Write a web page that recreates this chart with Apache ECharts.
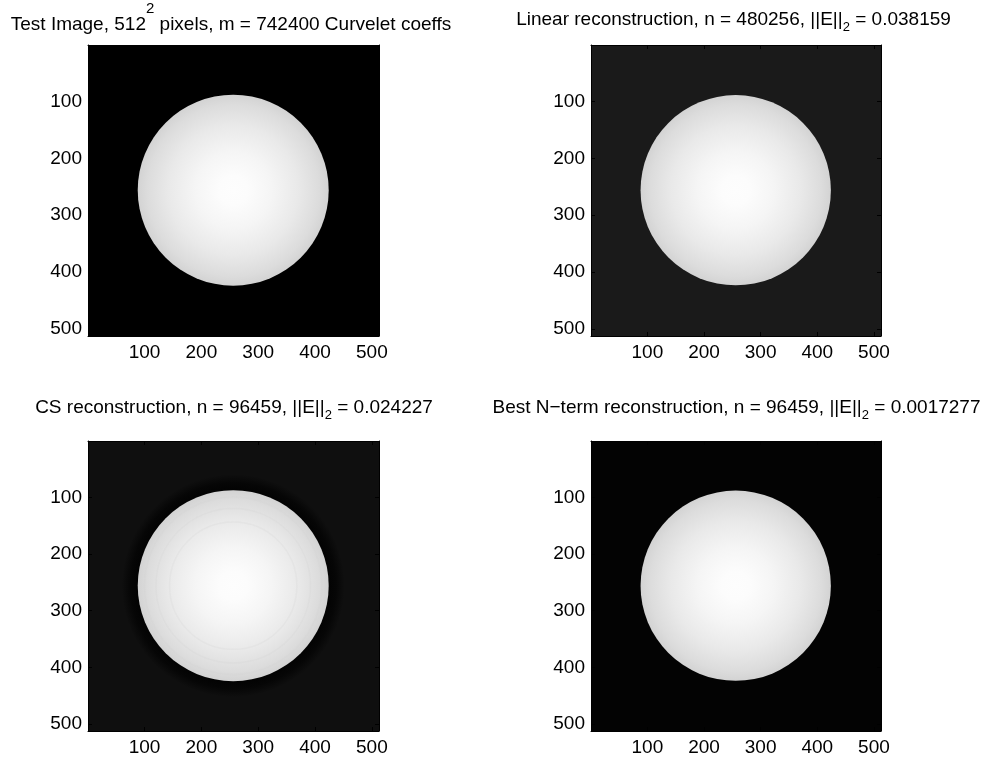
<!DOCTYPE html>
<html>
<head>
<meta charset="utf-8">
<style>
  html, body { margin: 0; padding: 0; background: #ffffff; }
  #chart { width: 992px; height: 757px; }
</style>
<script src="https://cdn.jsdelivr.net/npm/echarts@6/dist/echarts.min.js"></script>
</head>
<body>
<div id="chart"></div>
<script>
// Panel titles (rich-text markup for sub/superscripts)
const panelTitles = [
  'Test Image, 512{sup|2} pixels, m = 742400 Curvelet coeffs',
  'Linear reconstruction, n = 480256, ||E||{sub|2} = 0.038159',
  'CS reconstruction, n = 96459, ||E||{sub|2} = 0.024227',
  'Best N\u2212term reconstruction, n = 96459, ||E||{sub|2} = 0.0017277'
];

// Image extent in pixel coordinates and tick values
const imageExtent = [0.5, 512.5];
const tickValues = [100, 200, 300, 400, 500];

// Disk: centre (col,row) and radius in pixels
const diskCenter = [256, 256];
const diskRadius = 168;

// Background grey level of each reconstruction (0 = black, 1 = white)
const backgroundLevels = [0.0, 0.1, 0.06, 0.012];

// Dark halo around the disk in the CS reconstruction: outer radius (px), grey level
const csHaloRadius = 196;
const csHaloLevel = 0.012;
// Faint ringing inside the CS disk: radii (px)
const csRingRadii = [156, 136, 112];

// Grid boxes of the four panels (px)
const panelBoxes = [
  { left: 88, top: 45, width: 291, height: 291 },
  { left: 591, top: 45, width: 290, height: 291 },
  { left: 88, top: 441, width: 291, height: 291 },
  { left: 591, top: 441, width: 290, height: 291 }
];
// Title anchor: horizontal centre and top of the text line (px)
const titleBoxes = [
  { center: 231, top: 1.5, lineHeight: 46 },
  { center: 733.5, top: 6.5, lineHeight: 27 },
  { center: 234, top: 394.5, lineHeight: 27 },
  { center: 736.5, top: 394.5, lineHeight: 27 }
];

const FONT = '"Liberation Sans", Arial, Helvetica, sans-serif';
const FONT_SIZE = 19;

function grey(v) {
  const c = Math.round(v * 255);
  return 'rgb(' + c + ',' + c + ',' + c + ')';
}

const diskGradient = {
  type: 'radial', x: 0.5, y: 0.5, r: 0.5,
  colorStops: [
    { offset: 0.0, color: '#fdfdfd' },
    { offset: 0.15, color: '#fcfcfc' },
    { offset: 0.4, color: '#f5f5f5' },
    { offset: 0.68, color: '#e9e9e9' },
    { offset: 0.9, color: '#dcdcdc' },
    { offset: 1.0, color: '#d3d3d3' }
  ]
};

function makeRenderer(panelIndex) {
  return function (params, api) {
    const cx = api.value(0), cy = api.value(1), r = api.value(2);
    const p0 = api.coord([imageExtent[0], imageExtent[0]]);
    const p1 = api.coord([imageExtent[1], imageExtent[1]]);
    const c = api.coord([cx, cy]);
    const rpx = api.size([r, r])[0];
    const children = [
      {
        type: 'rect',
        shape: { x: p0[0], y: p0[1], width: p1[0] - p0[0], height: p1[1] - p0[1] },
        style: { fill: grey(backgroundLevels[panelIndex]) }
      }
    ];
    if (panelIndex === 2) {
      const haloPx = api.size([csHaloRadius, 0])[0];
      const inner = rpx / haloPx;
      children.push({
        type: 'circle',
        shape: { cx: c[0], cy: c[1], r: haloPx },
        style: {
          fill: {
            type: 'radial', x: 0.5, y: 0.5, r: 0.5,
            colorStops: [
              { offset: 0, color: grey(csHaloLevel) },
              { offset: inner, color: grey(csHaloLevel) },
              { offset: inner + (1 - inner) * 0.45, color: grey(0.025) },
              { offset: 1, color: grey(backgroundLevels[2]) }
            ]
          }
        }
      });
    }
    children.push({
      type: 'circle',
      shape: { cx: c[0], cy: c[1], r: rpx },
      style: { fill: diskGradient }
    });
    if (panelIndex === 2) {
      csRingRadii.forEach(function (rr) {
        children.push({
          type: 'circle',
          shape: { cx: c[0], cy: c[1], r: api.size([rr, 0])[0] },
          style: { fill: 'none', stroke: '#d0d0d0', lineWidth: 1.5, opacity: 0.22 }
        });
      });
    }
    return { type: 'group', children: children };
  };
}

const xAxes = [], yAxes = [], grids = [], series = [], titles = [];

panelBoxes.forEach(function (box, i) {
  grids.push(Object.assign({ containLabel: false }, box));
  const tickStyle = { show: true, inside: true, length: 4, customValues: tickValues,
                      lineStyle: { color: '#000', width: 1 } };
  const lineStyle = { show: true, lineStyle: { color: '#000', width: 1 } };
  ['bottom', 'top'].forEach(function (pos) {
    xAxes.push({
      gridIndex: i, type: 'value', position: pos,
      min: imageExtent[0], max: imageExtent[1], z: 5,
      axisLine: lineStyle, axisTick: tickStyle,
      splitLine: { show: false },
      axisLabel: pos === 'bottom'
        ? { show: true, customValues: tickValues, color: '#000', fontSize: FONT_SIZE, fontFamily: FONT, margin: 7 }
        : { show: false }
    });
  });
  ['left', 'right'].forEach(function (pos) {
    yAxes.push({
      gridIndex: i, type: 'value', position: pos, inverse: true,
      min: imageExtent[0], max: imageExtent[1], z: 5,
      axisLine: lineStyle, axisTick: tickStyle,
      splitLine: { show: false },
      axisLabel: pos === 'left'
        ? { show: true, customValues: tickValues, color: '#000', fontSize: FONT_SIZE, fontFamily: FONT, margin: 6 }
        : { show: false }
    });
  });
  series.push({
    type: 'custom',
    xAxisIndex: 2 * i, yAxisIndex: 2 * i,
    clip: true, silent: true,
    renderItem: makeRenderer(i),
    data: [[diskCenter[0], diskCenter[1], diskRadius]]
  });
  const tb = titleBoxes[i];
  titles.push({
    text: panelTitles[i],
    left: tb.center, top: tb.top, padding: 0,
    textAlign: 'center',
    textStyle: {
      color: '#000', fontSize: FONT_SIZE, fontWeight: 'normal', fontFamily: FONT,
      lineHeight: tb.lineHeight,
      rich: {
        sub: { fontSize: 13, lineHeight: 13, verticalAlign: 'bottom', color: '#000', fontFamily: FONT },
        sup: { fontSize: 15, lineHeight: 15, verticalAlign: 'top', color: '#000', fontFamily: FONT }
      }
    }
  });
});

const chart = echarts.init(document.getElementById('chart'), null, { renderer: 'canvas' });
chart.setOption({
  backgroundColor: '#ffffff',
  animation: false,
  title: titles,
  grid: grids,
  xAxis: xAxes,
  yAxis: yAxes,
  series: series
});
</script>
</body>
</html>
